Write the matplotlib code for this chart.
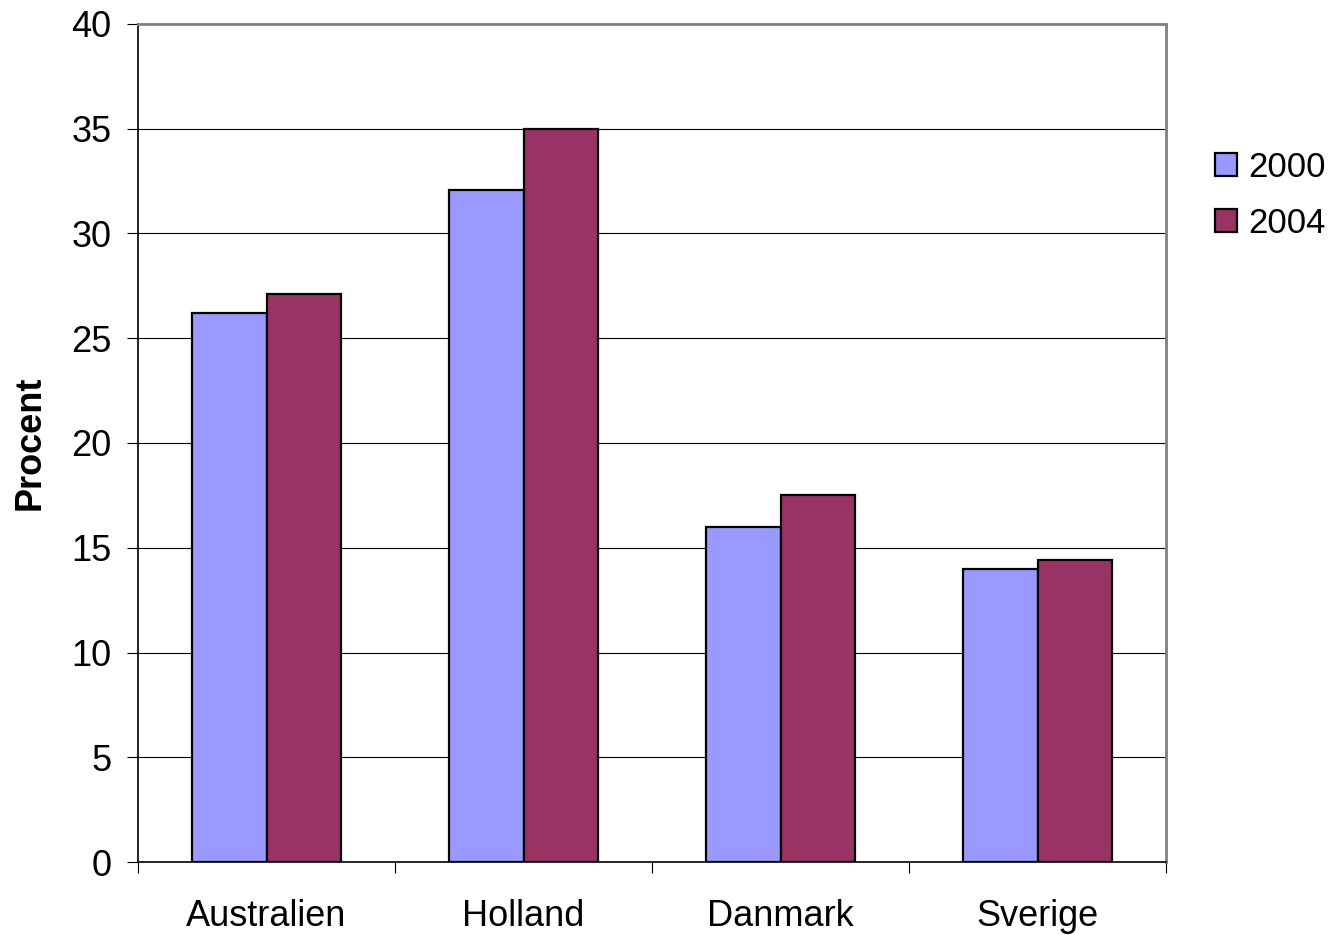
import matplotlib.pyplot as plt
import numpy as np

plt.rcParams['font.family'] = ['Liberation Sans', 'DejaVu Sans']

countries = ["Australien", "Holland", "Danmark", "Sverige"]
years = ["2000", "2004"]
values_2000 = [26.2, 32.1, 16.0, 14.0]
values_2004 = [27.1, 35.0, 17.5, 14.4]
y_ticks = [0, 5, 10, 15, 20, 25, 30, 35, 40]

fig = plt.figure(figsize=(13.34, 9.35), dpi=100)
ax = fig.add_axes([138 / 1334, 1 - 862 / 935, 1028 / 1334, 838 / 935])

x = np.arange(len(countries))
w = 0.29
ax.bar(x - w / 2, values_2000, w, color="#9999FF", edgecolor="black",
       linewidth=1.6, label=years[0], zorder=3)
ax.bar(x + w / 2, values_2004, w, color="#993366", edgecolor="black",
       linewidth=1.6, label=years[1], zorder=3)

ax.set_xlim(-0.5, len(countries) - 0.5)
ax.set_ylim(0, 40)
ax.set_yticks(y_ticks)
ax.tick_params(axis="y", labelsize=26, length=8, width=0.8, pad=11)
ax.set_xticks(x)
ax.set_xticklabels(countries)
ax.set_xticks(np.arange(len(countries) + 1) - 0.5, minor=True)
ax.tick_params(axis="x", which="major", length=0, labelsize=26, pad=27)
ax.tick_params(axis="x", which="minor", length=8, width=0.8)

for yv in y_ticks[1:-1]:
    ax.axhline(yv, color="black", linewidth=0.8, zorder=1)

ax.spines["left"].set_color("black")
ax.spines["bottom"].set_color("black")
ax.spines["left"].set_linewidth(1.2)
ax.spines["bottom"].set_linewidth(1.2)
ax.spines["top"].set_color("#808080")
ax.spines["right"].set_color("#808080")
ax.spines["top"].set_linewidth(2)
ax.spines["right"].set_linewidth(2)

ax.set_ylabel("Procent", fontsize=26, fontweight="bold")
ax.yaxis.set_label_coords(-0.088, 0.5)

ax.legend(loc="upper left", bbox_to_anchor=(1.034, 0.865), frameon=False,
          fontsize=25, handlelength=0.65, handleheight=0.65,
          handletextpad=0.3, labelspacing=0.65, borderaxespad=0)

fig.savefig("out.png", dpi=100)
